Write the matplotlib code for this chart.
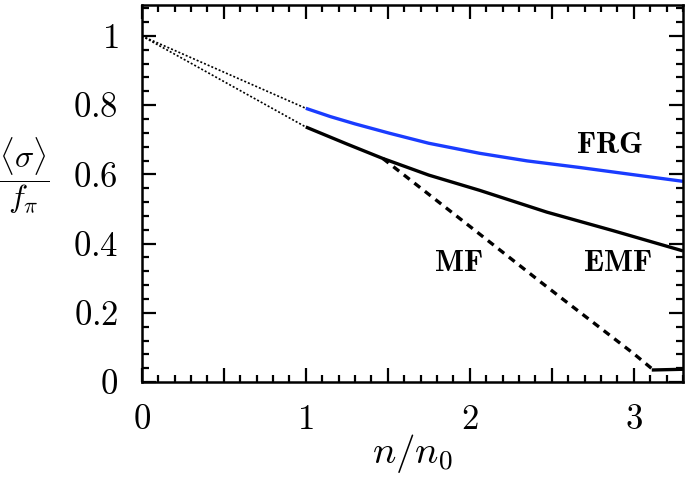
import numpy as np
import matplotlib
matplotlib.use('Agg')
import matplotlib.pyplot as plt
from matplotlib.ticker import MultipleLocator, FuncFormatter

plt.rcParams['mathtext.fontset'] = 'cm'
plt.rcParams['font.family'] = 'serif'
plt.rcParams['font.serif'] = ['cmr10', 'DejaVu Serif']
plt.rcParams['axes.unicode_minus'] = False

# low density extrapolation (dotted)
x_ext = [0.0, 1.0]
frg_ext = [1.0, 0.791]
emf_ext = [1.0, 0.737]

# FRG (blue)
x_frg = [1.0, 1.15, 1.3, 1.51, 1.75, 2.06, 2.35, 2.67, 3.0, 3.3]
y_frg = [0.791, 0.767, 0.746, 0.719, 0.690, 0.661, 0.639, 0.620, 0.599, 0.580]

# EMF (solid black)
x_emf = [1.0, 1.25, 1.47, 1.75, 2.06, 2.47, 2.87, 3.3]
y_emf = [0.737, 0.688, 0.646, 0.598, 0.554, 0.491, 0.438, 0.379]

# MF (dashed), then flat tail
x_mf = [1.47, 2.0, 2.43, 2.58, 2.8, 3.0, 3.12]
y_mf = [0.646, 0.450, 0.290, 0.235, 0.155, 0.082, 0.035]
x_mf_tail = [3.12, 3.3]
y_mf_tail = [0.035, 0.037]

fig = plt.figure(figsize=(6.85, 4.8), dpi=100)
ax = fig.add_axes([0.207, 0.204, 0.79, 0.786])

ax.plot(x_ext, frg_ext, 'k', ls=(0, (1.2, 1.2)), lw=1.2)
ax.plot(x_ext, emf_ext, 'k', ls=(0, (1.2, 1.2)), lw=1.2)
ax.plot(x_frg, y_frg, color='#1a3cff', lw=2.4, solid_capstyle='butt')
ax.plot(x_emf, y_emf, color='k', lw=2.4, solid_capstyle='butt')
ax.plot(x_mf, y_mf, color='k', lw=2.4, ls=(0, (2.2, 1.8)))
ax.plot(x_mf_tail, y_mf_tail, color='k', lw=2.4)

ax.text(2.85, 0.684, r'$\mathbf{FRG}$', fontsize=22, ha='center', va='center')
ax.text(1.93, 0.342, r'$\mathbf{MF}$', fontsize=22, ha='center', va='center')
ax.text(2.90, 0.342, r'$\mathbf{EMF}$', fontsize=22, ha='center', va='center')

ax.set_xlim(0, 3.3)
ax.set_ylim(0, 1.09)

ax.xaxis.set_major_locator(MultipleLocator(0.5))
ax.xaxis.set_minor_locator(MultipleLocator(0.1))
ax.yaxis.set_major_locator(MultipleLocator(0.2))
ax.yaxis.set_minor_locator(MultipleLocator(0.04))
ax.xaxis.set_major_formatter(FuncFormatter(
    lambda v, p: f'${int(round(v))}$' if abs(v - round(v)) < 1e-6 else ''))
ax.yaxis.set_major_formatter(FuncFormatter(
    lambda v, p: '$0$' if abs(v) < 1e-6 else ('$1$' if abs(v - 1) < 1e-6 else f'${v:.1f}$')))

ax.tick_params(which='both', direction='in', top=True, right=True,
               width=1.6, labelsize=25)
ax.tick_params(axis='y', pad=17)
ax.tick_params(axis='x', pad=16)
ax.tick_params(which='major', length=10)
ax.tick_params(which='minor', length=5)
for s in ax.spines.values():
    s.set_linewidth(1.8)

ax.set_xlabel(r'$n/n_0$', fontsize=28, labelpad=-3)
ax.text(-0.218, 0.547, r'$\dfrac{\langle\sigma\rangle}{f_\pi}$', fontsize=23,
        transform=ax.transAxes, ha='center', va='center')

fig.savefig('out.png', dpi=100)
